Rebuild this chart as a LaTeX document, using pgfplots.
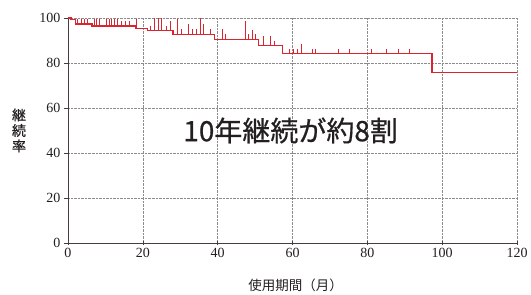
\documentclass[border=0pt]{standalone}
\usepackage{pgfplots}
\pgfplotsset{compat=1.18}
\usepackage{fontspec}
\setmainfont{Liberation Serif}
\newfontfamily\jp{Noto Sans CJK JP}
\newfontfamily\jpm[FakeBold=0.6]{Noto Sans CJK JP}
\usetikzlibrary{calc}
\definecolor{kmred}{RGB}{218,37,48}
\definecolor{axcol}{RGB}{70,62,62}
\definecolor{txt}{RGB}{35,31,32}
\begin{document}
\begin{tikzpicture}
\begin{axis}[
  scale only axis, width=449bp, height=225bp,
  xmin=0, xmax=120, ymin=0, ymax=100,
  enlargelimits=false,
  xtick={0,20,...,120}, ytick={0,20,...,100},
  axis x line=bottom, axis y line=left,
  axis line style={axcol, line width=0.8pt, -},
  grid=major,
  major grid style={densely dotted, black!45, line width=0.6pt},
  tick style={axcol, line width=0.6pt}, major tick length=4bp,
  xtick align=center, ytick align=outside,
  tick label style={font=\fontsize{14bp}{15bp}\selectfont, text=txt},
  /pgf/number format/assume math mode=true,
  clip=false,
  unbounded coords=jump,
]
\coordinate (O) at (rel axis cs:0,0);
% Kaplan-Meier step curve
\addplot[const plot, kmred, line width=1.3pt, mark=none] coordinates {
(0,100)(0.8,99.4)(2.0,97.3)(6.4,96.4)(18.2,95.4)(21.3,94.4)(28.1,92.8)
(39.1,90.6)(51.0,87.7)(57.3,84.1)(97.3,75.7)(120,75.7)};
% censoring marks
\addplot[kmred, line width=0.9pt, mark=none] coordinates {
(2.6,97.3)(2.6,99.6)(2.6,nan)
(3.5,97.3)(3.5,99.6)(3.5,nan)
(4.4,97.3)(4.4,99.6)(4.4,nan)
(5.3,97.3)(5.3,99.6)(5.3,nan)
(7.0,96.4)(7.0,99.6)(7.0,nan)
(7.6,96.4)(7.6,99.6)(7.6,nan)
(8.3,96.4)(8.3,99.6)(8.3,nan)
(10.3,96.4)(10.3,99.6)(10.3,nan)
(11.0,96.4)(11.0,99.6)(11.0,nan)
(11.6,96.4)(11.6,99.6)(11.6,nan)
(12.3,96.4)(12.3,99.6)(12.3,nan)
(13.3,96.4)(13.3,99.6)(13.3,nan)
(14.3,96.4)(14.3,98.8)(14.3,nan)
(15.3,96.4)(15.3,98.8)(15.3,nan)
(16.3,96.4)(16.3,98.8)(16.3,nan)
(18.2,95.4)(18.2,99.6)(18.2,nan)
(22.1,94.4)(22.1,96.6)(22.1,nan)
(23.2,94.4)(23.2,100)(23.2,nan)
(24.2,94.4)(24.2,100)(24.2,nan)
(25.1,94.4)(25.1,100)(25.1,nan)
(26.2,94.4)(26.2,96.6)(26.2,nan)
(27.3,94.4)(27.3,98.7)(27.3,nan)
(29.2,92.8)(29.2,99.5)(29.2,nan)
(30.2,92.8)(30.2,95.3)(30.2,nan)
(32.3,92.8)(32.3,97.5)(32.3,nan)
(33.3,92.8)(33.3,95.3)(33.3,nan)
(34.3,92.8)(34.3,95.3)(34.3,nan)
(35.3,92.8)(35.3,100.2)(35.3,nan)
(36.3,92.8)(36.3,97.4)(36.3,nan)
(38.2,92.8)(38.2,95.3)(38.2,nan)
(41.2,90.6)(41.2,94.9)(41.2,nan)
(42.2,90.6)(42.2,92.9)(42.2,nan)
(47.3,90.6)(47.3,98.8)(47.3,nan)
(48.2,90.6)(48.2,92.9)(48.2,nan)
(49.3,90.6)(49.3,94.8)(49.3,nan)
(50.2,90.6)(50.2,92.9)(50.2,nan)
(52.2,87.7)(52.2,91.9)(52.2,nan)
(54.2,87.7)(54.2,91.9)(54.2,nan)
(55.2,87.7)(55.2,89.7)(55.2,nan)
(59.1,84.1)(59.1,86.4)(59.1,nan)
(60.2,84.1)(60.2,86.4)(60.2,nan)
(61.2,84.1)(61.2,86.4)(61.2,nan)
(62.3,84.1)(62.3,88.4)(62.3,nan)
(65.2,84.1)(65.2,86.3)(65.2,nan)
(66.2,84.1)(66.2,86.3)(66.2,nan)
(72.3,84.1)(72.3,86.3)(72.3,nan)
(75.3,84.1)(75.3,86.3)(75.3,nan)
(81.2,84.1)(81.2,86.3)(81.2,nan)
(85.2,84.1)(85.2,86.3)(85.2,nan)
(88.3,84.1)(88.3,86.3)(88.3,nan)
(91.3,84.1)(91.3,86.3)};
\node[font=\jpm\fontsize{28bp}{30bp}\selectfont, text=txt, inner sep=0] at (axis cs:59.5,50) {10年継続が約8割};
\node[font=\jpm\fontsize{14bp}{15.5bp}\selectfont, text=txt, align=center, inner sep=0] at (rel axis cs:0,0.5) [xshift=-49bp] {継\\続\\率};
\node[font=\jp\fontsize{13.5bp}{15bp}\selectfont, text=txt, inner sep=0] at (rel axis cs:0.5,0) [yshift=-42bp, xshift=3bp] {使用期間（月）};
\end{axis}
\pgfresetboundingbox
\path[use as bounding box] ($(O)+(-68bp,-52bp)$) rectangle ($(O)+(463bp,243bp)$);
\end{tikzpicture}
\end{document}
